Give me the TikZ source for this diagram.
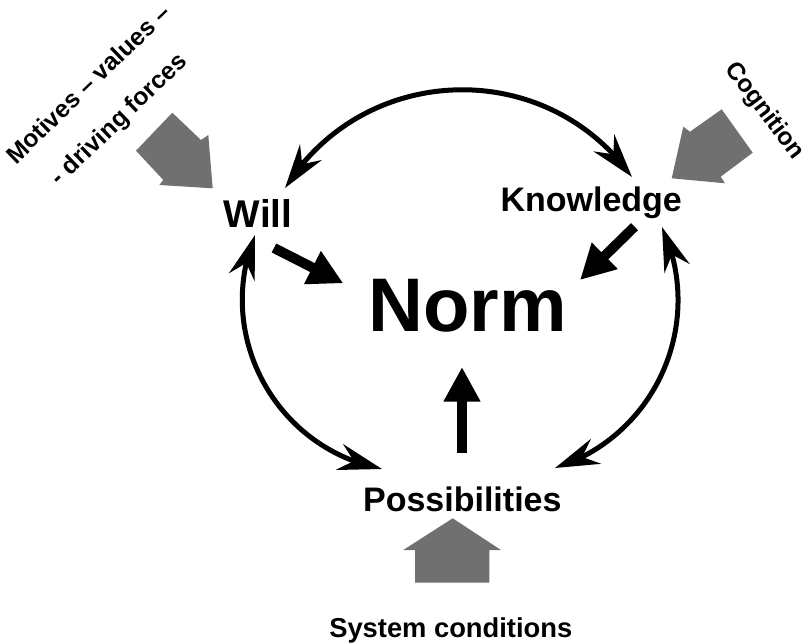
\documentclass[tikz,border=0pt]{standalone}
\usepackage{fontspec}
\setmainfont{Liberation Sans}
\usetikzlibrary{arrows.meta,bending}
\definecolor{blockgray}{RGB}{112,112,112}
\begin{document}
\begin{tikzpicture}[x=0.75pt,y=-0.75pt,
  lbl/.style={font=\bfseries\fontsize{25.5}{30}\selectfont, inner sep=0pt, anchor=base},
  willlbl/.style={font=\bfseries\fontsize{29}{34}\selectfont, inner sep=0pt, anchor=base},
  normlbl/.style={font=\bfseries\fontsize{57}{64}\selectfont, inner sep=0pt, anchor=base},
  syslbl/.style={font=\bfseries\fontsize{20.5}{24}\selectfont, inner sep=0pt, anchor=base},
  sidelbl/.style={font=\bfseries\fontsize{18.5}{22}\selectfont, inner sep=0pt, anchor=base},
  cyclearrow/.style={line width=3.75pt, {Stealth[length=33pt,width=20pt,inset=11pt]}-{Stealth[length=33pt,width=20pt,inset=11pt]}},
  normarrow/.style={line width=7.5pt, -{Triangle[length=26pt,width=26pt]}},
  blockarrow/.style={fill=blockgray, draw=none}]
\useasboundingbox (0,0) rectangle (811,643);

% labels
\node[willlbl] (will) at (258,227) {Will};
\node[lbl] (know) at (591.2,211.7) {Knowledge};
\node[normlbl] (norm) at (467.5,331.7) {Norm};
\node[lbl] (poss) at (462.3,511.7) {Possibilities};
\node[syslbl] (sys) at (450.8,637) {System conditions};
\node[sidelbl, rotate=44] (mot1) at (94,90) {Motives – values –};
\node[sidelbl, rotate=44] (mot2) at (124,125) {- driving forces};
\node[sidelbl, rotate=-53] (cog) at (759,115) {Cognition};

% gray block arrows
\path[blockarrow] (172.3,112.7) -- (201,140) -- (208.3,135) -- (212.7,188.3)
  -- (159.3,185) -- (163.3,180) -- (136,150.7) -- cycle;
\path[blockarrow] (721.7,109.3) -- (752.7,152.7) -- (720.7,176.7) -- (725,183.3)
  -- (671.7,178.3) -- (683.3,126.7) -- (690,131.7) -- cycle;
\path[blockarrow] (415,582.7) -- (489.3,582.7) -- (489.3,550) -- (501,550)
  -- (452.7,518.3) -- (403.3,550) -- (415,550) -- cycle;

% end points of the connectors
\coordinate (wTop) at (285,188);
\coordinate (kTop) at (632,177);
\coordinate (wBot) at (255,235);
\coordinate (pLeft) at (382,469);
\coordinate (kBot) at (662,227);
\coordinate (pRight) at (555,468);
\coordinate (wN) at (274,248);
\coordinate (nW) at (343.3,283.3);
\coordinate (kN) at (634.5,226.7);
\coordinate (nK) at (580,280);
\coordinate (pN) at (462,453);
\coordinate (nP) at (462,367);

% cycle arrows
\draw[cyclearrow] (wTop) .. controls (363.8,61.9) and (545.4,56.1) .. (kTop);
\draw[cyclearrow] (wBot) .. controls (214.2,335.5) and (275.5,448.3) .. (pLeft);
\draw[cyclearrow] (kBot) .. controls (706,323.2) and (655.9,436.2) .. (pRight);

% arrows into Norm
\draw[normarrow] (wN) -- (nW);
\draw[normarrow] (kN) -- (nK);
\draw[normarrow] (pN) -- (nP);
\end{tikzpicture}
\end{document}
